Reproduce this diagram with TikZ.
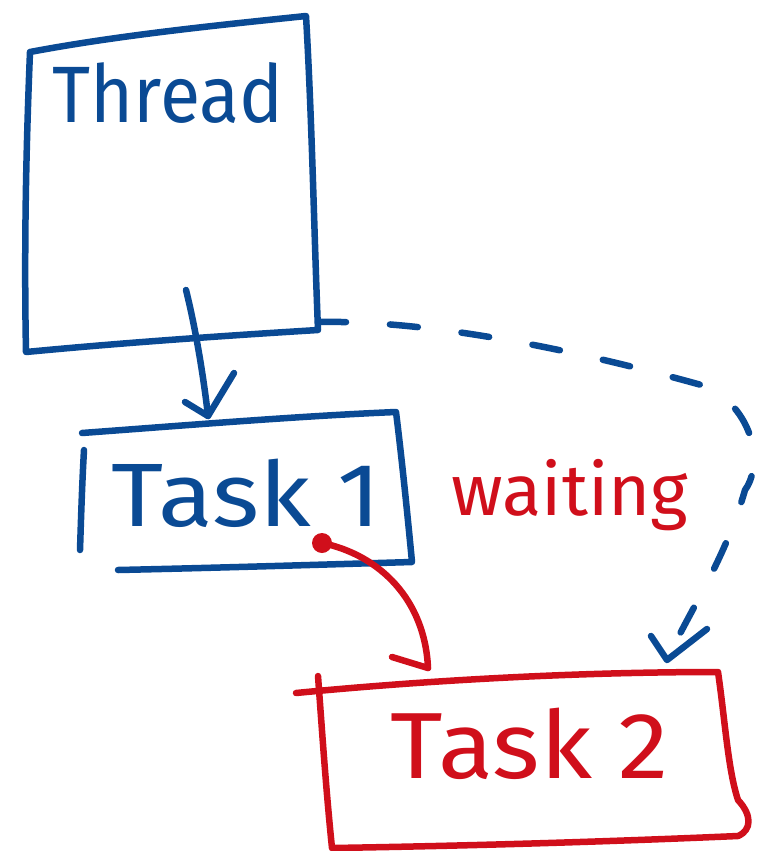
\documentclass[tikz,border=0pt]{standalone}
\usepackage{fontspec}
\setmainfont{Fira Sans}
\definecolor{inkblue}{HTML}{0A4A94}
\definecolor{inkred}{HTML}{D00F1B}
\begin{document}
\begin{tikzpicture}[x=1pt,y=-1pt,
  pen/.style={line width=6.5pt,line cap=round,line join=round},
  bluepen/.style={pen,draw=inkblue},
  redpen/.style={pen,draw=inkred},
  label/.style={inner sep=0pt,anchor=base}]
\useasboundingbox (0,0) rectangle (769,851);

% Thread box
\draw[bluepen] (30,52) .. controls (120,35) and (220,25) .. (306,16)
  .. controls (312,120) and (314,230) .. (318,330)
  .. controls (220,336) and (120,343) .. (26,352)
  .. controls (24,250) and (26,150) .. (30,52);
\node[label,text=inkblue,font=\fontsize{80}{82}\selectfont,xscale=0.92] (thread) at (168,122) {Thread};

% Task 1 box
\draw[bluepen] (82,433) .. controls (190,425) and (300,416) .. (396,412)
  .. controls (402,460) and (408,520) .. (412,562)
  .. controls (310,565) and (210,568) .. (118,570);
\draw[bluepen] (84,450) .. controls (82,485) and (81,520) .. (80,550);
\node[label,text=inkblue,font=\fontsize{90}{92}\selectfont,xscale=1.12] (task1) at (246,526) {Task 1};

% Task 2 box
\draw[redpen] (296,693) .. controls (430,680) and (580,672) .. (718,672)
  .. controls (725,720) and (728,770) .. (738,800)
  .. controls (752,815) and (752,830) .. (738,836)
  .. controls (600,842) and (460,846) .. (332,848)
  .. controls (326,790) and (322,730) .. (318,676);
\node[label,text=inkred,font=\fontsize{94}{96}\selectfont,xscale=1.08] (task2) at (530,778) {Task 2};

% waiting label
\node[label,text=inkred,font=\fontsize{72}{74}\selectfont] (wait) at (570,515) {waiting};

% connector points
\coordinate (t1in) at (208,416);
\coordinate (thrdout) at (186,290);
\coordinate (t1out) at (322,543);
\coordinate (t2in) at (428,668);
\coordinate (threadcorner) at (318,322);
\coordinate (t2top) at (667,660);

% Thread -> Task 1
\draw[bluepen] (thrdout) .. controls (196,330) and (204,380) .. (t1in);
\draw[bluepen] (185,402) -- (t1in) -- (234,373);

% Task 1 -> Task 2
\fill[inkred] (t1out) circle (10);
\draw[redpen] (t1out) .. controls (380,555) and (425,600) .. (t2in);
\draw[redpen] (392,657) -- (t2in);

% dashed Thread -> Task 2
\draw[bluepen,dash pattern=on 28pt off 44pt]
  (threadcorner) .. controls (420,320) and (560,345) .. (712,388)
  .. controls (760,420) and (760,470) .. (745,490)
  .. controls (725,560) and (690,610) .. (t2top);
\draw[bluepen] (651,636) -- (t2top) -- (707,629);
\end{tikzpicture}
\end{document}
